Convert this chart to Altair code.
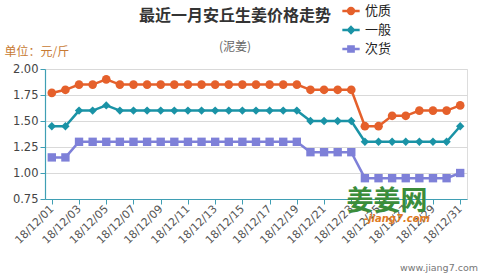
import altair as alt
import pandas as pd

# ---- data ----
dates = ["18/12/%02d" % d for d in range(1, 32)]
tick_dates = dates[::2]
series = ["优质", "一般", "次货"]
youzhi = [1.77, 1.80, 1.85, 1.85, 1.90, 1.85, 1.85, 1.85, 1.85, 1.85, 1.85, 1.85, 1.85, 1.85,
          1.85, 1.85, 1.85, 1.85, 1.85, 1.80, 1.80, 1.80, 1.80, 1.45, 1.45, 1.55, 1.55, 1.60,
          1.60, 1.60, 1.65]
yiban = [1.45, 1.45, 1.60, 1.60, 1.65, 1.60, 1.60, 1.60, 1.60, 1.60, 1.60, 1.60, 1.60, 1.60,
         1.60, 1.60, 1.60, 1.60, 1.60, 1.50, 1.50, 1.50, 1.50, 1.30, 1.30, 1.30, 1.30, 1.30,
         1.30, 1.30, 1.45]
cihuo = [1.15, 1.15, 1.30, 1.30, 1.30, 1.30, 1.30, 1.30, 1.30, 1.30, 1.30, 1.30, 1.30, 1.30,
         1.30, 1.30, 1.30, 1.30, 1.30, 1.20, 1.20, 1.20, 1.20, 0.95, 0.95, 0.95, 0.95, 0.95,
         0.95, 0.95, 1.00]
colors = ["#e5602b", "#1a93a6", "#7e80d8"]
y_ticks = [0.75, 1.00, 1.25, 1.50, 1.75, 2.00]

rows = []
for name, vals in zip(series, [youzhi, yiban, cihuo]):
    for d, v in zip(dates, vals):
        rows.append({"date": d, "price": v, "grade": name})
df = pd.DataFrame(rows)

FONT = "Noto Sans CJK SC"
AXIS_C = "#3f9fb4"

# legend symbols: a short line with the series marker in the middle
P_CIRCLE = "M-1,0H1M-0.34,0A0.34,0.34 0 1,1 0.34,0A0.34,0.34 0 1,1 -0.34,0Z"
P_DIAMOND = "M-1,0H1M0,-0.33L0.33,0L0,0.33L-0.33,0Z"
P_SQUARE = "M-1,0H1M-0.3,-0.3H0.3V0.3H-0.3Z"

legend = alt.Legend(
    title=None, orient="none", legendX=296, legendY=-68, direction="vertical",
    labelFont=FONT, labelFontSize=13, labelColor="#222", labelOffset=4,
    symbolSize=300, symbolStrokeWidth=2.5, rowPadding=1, symbolOpacity=1,
)

x = alt.X("date:O", sort=dates, title=None,
          scale=alt.Scale(type="point", padding=0.5),
          axis=alt.Axis(values=tick_dates, labelAngle=-45, labelAlign="right",
                        labelBaseline="middle", labelFont="DejaVu Sans", labelFontSize=11,
                        labelColor="#555", labelPadding=3, tickSize=5, tickColor=AXIS_C,
                        domainColor=AXIS_C, domainWidth=1.2, gridColor="#d9d9d9"))
y = alt.Y("price:Q", scale=alt.Scale(domain=[0.75, 2.0], nice=False, zero=False),
          axis=alt.Axis(values=y_ticks, format=".2f", labelFont="DejaVu Sans",
                        labelFontSize=11.5, labelColor="#444", tickSize=5, tickColor=AXIS_C,
                        domainColor=AXIS_C, domainWidth=1.2, gridColor="#d9d9d9",
                        title="单位：元/斤", titleAngle=0, titleAlign="left",
                        titleBaseline="alphabetic", titleX=-41, titleY=-14,
                        titleFont=FONT, titleFontSize=12, titleFontWeight="normal",
                        titleColor="#c77a33"))
# data-driven domain (ordered like `series`) for the drawn marks
color_enc = alt.Color("grade:N", sort=series, scale=alt.Scale(range=colors), legend=None)

base = alt.Chart(df)

# layer that only drives the legend (its marks are clipped away)
legend_layer = base.mark_point(
    filled=True, opacity=1, size=300, strokeWidth=2.5, clip=True
).encode(
    x=x, y=alt.value(-300),
    fill=alt.Fill("grade:N", scale=alt.Scale(domain=series, range=colors), legend=legend),
    stroke=alt.Stroke("grade:N", scale=alt.Scale(domain=series, range=colors), legend=legend),
    shape=alt.Shape("grade:N", scale=alt.Scale(domain=series, range=[P_CIRCLE, P_DIAMOND, P_SQUARE]),
                    legend=legend),
)

lines = base.mark_line(strokeWidth=2.5).encode(x=x, y=y, color=color_enc, detail="grade:N")

marker_layers = []
for name, shp, sz in zip(series, ["circle", "diamond", "square"], [75, 70, 70]):
    marker_layers.append(
        base.transform_filter(alt.datum.grade == name).mark_point(
            filled=True, opacity=1, shape=shp, size=sz
        ).encode(x=x, y=y, color=color_enc)
    )

logo = alt.Chart(pd.DataFrame({"t": ["姜姜网"]})).mark_text(
    font=FONT, fontSize=27, fontWeight="bold", color="#3b8d3b", align="center", baseline="middle"
).encode(text="t:N", x=alt.value(342), y=alt.value(133))
logo2 = alt.Chart(pd.DataFrame({"t": ["-jiang7.com"]})).mark_text(
    font="DejaVu Sans", fontSize=10, fontStyle="italic", fontWeight="bold", color="#e07a22",
    align="center", baseline="middle"
).encode(text="t:N", x=alt.value(352), y=alt.value(150))
site = alt.Chart(pd.DataFrame({"t": ["www.jiang7.com"]})).mark_text(
    font="DejaVu Sans", fontSize=9.5, color="#777", align="right", baseline="alphabetic"
).encode(text="t:N", x=alt.value(433), y=alt.value(202))

chart = alt.layer(legend_layer, lines, *marker_layers, logo, logo2, site).properties(
    width=422, height=130,
    autosize=alt.AutoSizeParams(type="none"),
    padding={"left": 45, "top": 69, "right": 15, "bottom": 75},
    title=alt.TitleParams("最近一月安丘生姜价格走势", subtitle="(泥姜)", font=FONT,
                          fontSize=16, fontWeight="bold", color="#333", subtitleFont=FONT,
                          subtitleFontSize=12, subtitleColor="#666", subtitlePadding=18,
                          offset=15, dx=-21, dy=67, anchor="middle"),
).configure_view(stroke="#d9d9d9").configure(background="white")

chart.save("out.html", embed_options={"renderer": "svg", "actions": False})
